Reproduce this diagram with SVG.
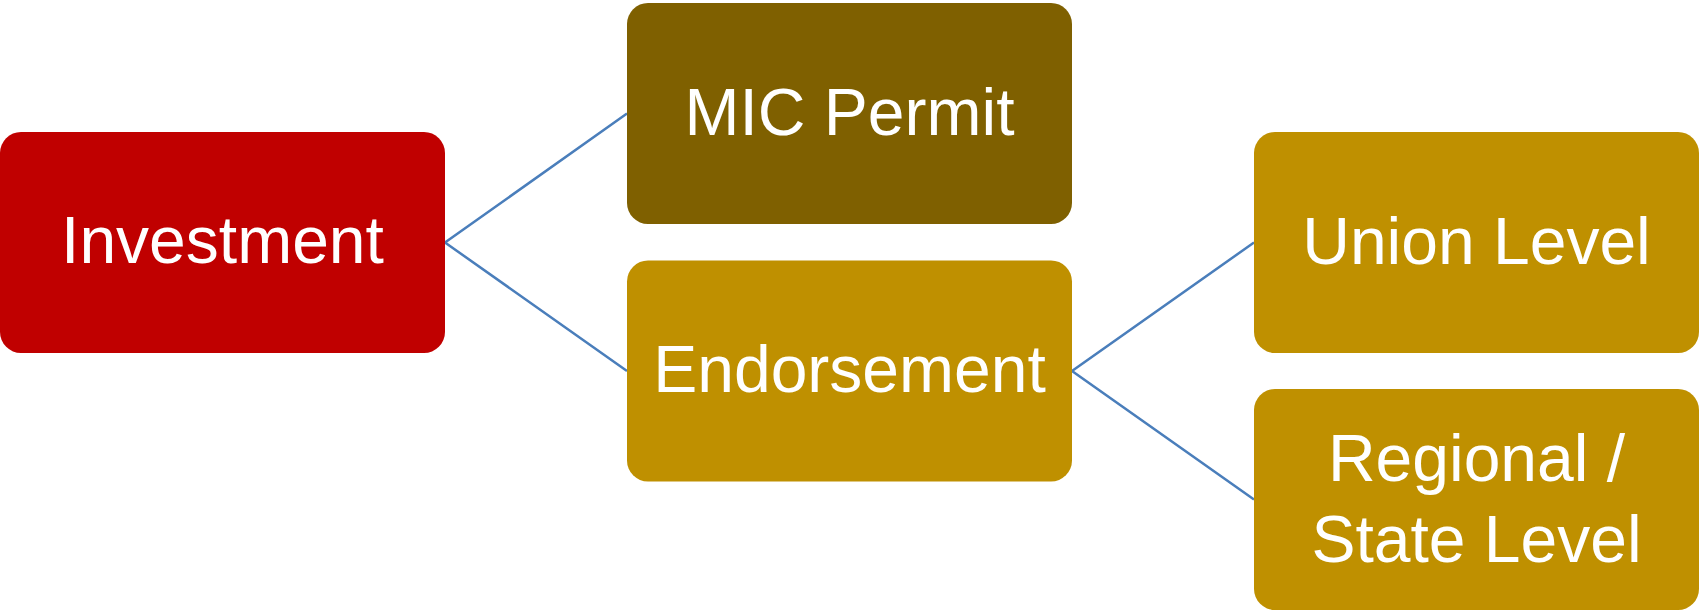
<svg xmlns="http://www.w3.org/2000/svg" width="1699" height="612" viewBox="0 0 1699 612">
<style>
.box{stroke:none}
.lbl{font-family:"Liberation Sans",Arial,sans-serif;font-size:66px;fill:#FFFFFF;text-anchor:middle}
.conn{stroke:#4A7EBB;stroke-width:2.5;fill:none}
</style>
<rect width="1699" height="612" fill="#FFFFFF"/>
<g id="connectors">
<polyline class="conn" points="627,113.5 445,242.5 627,371"/>
<polyline class="conn" points="1254,242.5 1072,371 1254,499.5"/>
</g>
<g id="investment">
<rect class="box" x="0" y="132" width="445" height="221" rx="21" fill="#C00000"/>
<text class="lbl" x="222.5" y="263">Investment</text>
</g>
<g id="mic-permit">
<rect class="box" x="627" y="3" width="445" height="221" rx="21" fill="#7F6000"/>
<text class="lbl" x="849.5" y="134.5">MIC Permit</text>
</g>
<g id="endorsement">
<rect class="box" x="627" y="260.5" width="445" height="221" rx="21" fill="#BF9000"/>
<text class="lbl" x="849.5" y="392">Endorsement</text>
</g>
<g id="union-level">
<rect class="box" x="1254" y="132" width="445" height="221" rx="21" fill="#BF9000"/>
<text class="lbl" x="1476.5" y="264">Union Level</text>
</g>
<g id="regional-state-level">
<rect class="box" x="1254" y="389" width="445" height="221" rx="21" fill="#BF9000"/>
<text class="lbl" x="1476.5" y="481">Regional /</text>
<text class="lbl" x="1476.5" y="562">State Level</text>
</g>
</svg>
